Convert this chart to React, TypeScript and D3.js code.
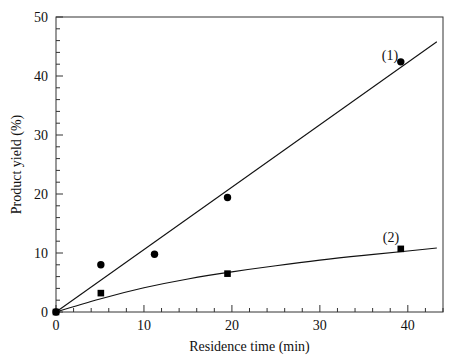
import React from "react";
import * as d3 from "d3";

const circleX = [0, 5.1, 11.2, 19.5, 39.2];
const circleY = [0, 8.0, 9.8, 19.4, 42.4];
const squareX = [0, 5.1, 19.5, 39.2];
const squareY = [0, 3.2, 6.5, 10.7];
const fit1X = [0, 43.3];
const fit1Y = [0, 45.8];
const fit2X = [0, 5, 10, 15, 20, 25, 30, 35, 40, 43.3];
const fit2Y = [0, 2.2, 4.1, 5.6, 6.8, 7.85, 8.8, 9.6, 10.35, 10.85];
const xTicks = [0, 10, 20, 30, 40];
const yTicks = [0, 10, 20, 30, 40, 50];

export default function App() {
  const W = 459, H = 361;
  const left = 56, right = 443, top = 17, bottom = 312;
  const x = d3.scaleLinear().domain([0, 44]).range([left, right]);
  const y = d3.scaleLinear().domain([0, 50]).range([bottom, top]);
  const line = d3.line<[number, number]>().x(d => x(d[0])).y(d => y(d[1]));
  const curve = d3.line<[number, number]>().x(d => x(d[0])).y(d => y(d[1])).curve(d3.curveNatural);
  const xMinor = d3.range(0, 44.01, 2);
  const yMinor = d3.range(0, 50.01, 2);
  const font = "Liberation Serif, serif";
  return (
    <svg width={W} height={H} style={{ position: "absolute", left: 0, top: 0, fontFamily: font }}>
      <rect x={0} y={0} width={W} height={H} fill="#fff" />
      <rect x={left} y={top} width={right - left} height={bottom - top} fill="none" stroke="#333" strokeWidth={1} />
      {xMinor.map(t => (
        <line key={"xm" + t} x1={x(t)} x2={x(t)} y1={bottom} y2={bottom - (t % 10 === 0 ? 7 : 4)} stroke="#333" />
      ))}
      {yMinor.map(t => (
        <line key={"ym" + t} x1={left} x2={left + (t % 10 === 0 ? 7 : 4)} y1={y(t)} y2={y(t)} stroke="#333" />
      ))}
      {xTicks.map(t => (
        <text key={"xt" + t} x={x(t)} y={330} fontSize={14} textAnchor="middle" fill="#111" style={{ fontFamily: font }}>{t}</text>
      ))}
      {yTicks.map(t => (
        <text key={"yt" + t} x={48} y={y(t) + 5} fontSize={14} textAnchor="end" fill="#111" style={{ fontFamily: font }}>{t}</text>
      ))}
      <text x={(left + right) / 2} y={351} fontSize={14} textAnchor="middle" fill="#111" style={{ fontFamily: font }}>Residence time (min)</text>
      <text transform={`translate(21,${(top + bottom) / 2}) rotate(-90)`} fontSize={14} textAnchor="middle" fill="#111" style={{ fontFamily: font }}>Product yield (%)</text>
      <path d={line(fit1X.map((v, i) => [v, fit1Y[i]]) as [number, number][]) || ""} fill="none" stroke="#111" strokeWidth={1.1} />
      <path d={curve(fit2X.map((v, i) => [v, fit2Y[i]]) as [number, number][]) || ""} fill="none" stroke="#111" strokeWidth={1.1} />
      {circleX.map((v, i) => (
        <circle key={"c" + i} cx={x(v)} cy={y(circleY[i])} r={3.7} fill="#000" />
      ))}
      {squareX.map((v, i) => (
        <rect key={"s" + i} x={x(v) - 3.3} y={y(squareY[i]) - 3.3} width={6.6} height={6.6} fill="#000" />
      ))}
      <text x={390} y={60} fontSize={14} textAnchor="middle" fill="#111" style={{ fontFamily: font }}>(1)</text>
      <text x={391} y={242} fontSize={14} textAnchor="middle" fill="#111" style={{ fontFamily: font }}>(2)</text>
    </svg>
  );
}
